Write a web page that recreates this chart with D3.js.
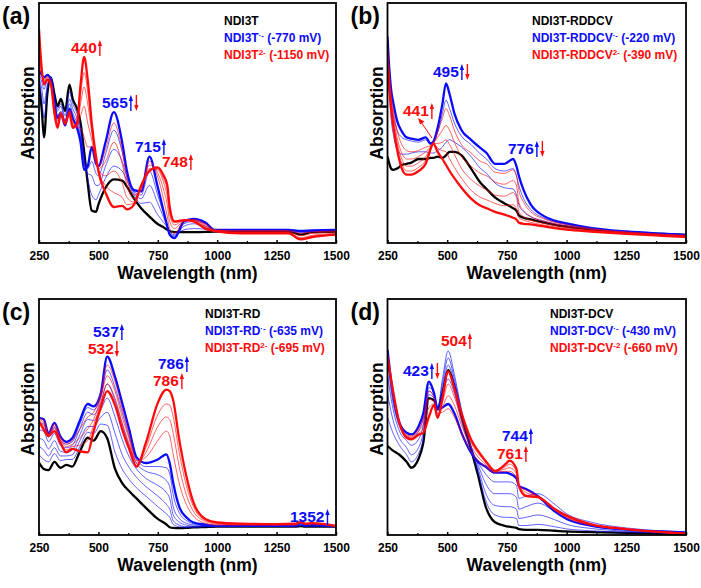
<!DOCTYPE html>
<html>
<head>
<meta charset="utf-8">
<script src="https://cdn.jsdelivr.net/npm/d3@7"></script>
<style>
  body { margin: 0; background: #fff; }
  svg { display: block; }
  text { font-family: "Liberation Sans", Arial, sans-serif; font-weight: bold; }
</style>
</head>
<body>
<div id="chart"></div>
<script>
// ---- data (absorption in arbitrary units) ----

// panel (a) NDI3T
var wlA = [250, 262, 271, 285, 300, 315, 328, 342, 360, 378, 392, 410, 425, 440, 455, 472, 490, 500, 530, 565, 600, 620, 650, 680, 715, 748, 775, 790, 800, 820, 860, 900, 950, 990, 1100, 1200, 1300, 1350, 1400, 1500];
var blackA = [66, 55, 44, 62, 69, 62, 57, 60, 55, 66, 60, 56, 50, 38, 25, 13.5, 13, 16, 23, 26.5, 26, 23.5, 18.5, 14.5, 11, 8, 6.5, 5.5, 5, 4.5, 4.5, 4.5, 4.6, 4.8, 4.8, 4.8, 4.8, 3.5, 4.5, 4.8];
var blueA = [72, 70, 69, 70, 68, 58, 52, 54, 49, 56, 52, 48, 42, 30.5, 32, 40, 33, 32, 42, 54.5, 42, 30, 22, 21.5, 36, 24, 13, 7, 3.5, 2, 9, 10, 8.5, 5.5, 5.5, 5.5, 5.5, 5, 5.3, 5.5];
var redA = [89, 72, 66, 68, 66, 54, 48, 54, 50, 54, 48, 50, 66, 77.5, 68, 50, 36, 30, 21, 15, 15.5, 14, 16, 24, 30, 31.5, 28, 24, 15, 9, 9.5, 9, 6, 5, 4, 4, 4, 1.5, 2.5, 3.5];
var blueThinA1 = [68, 60, 52, 64, 69, 61, 56, 58, 53, 63, 58, 54, 48, 36, 27, 20, 18, 20, 27, 32, 30, 26, 20, 16.5, 17, 12, 8.5, 6.5, 4.5, 3.5, 5.5, 6, 5.8, 5, 5, 5, 5, 4.2, 4.8, 5];
var blueThinA2 = [69, 64, 58, 66, 69, 60, 55, 57, 51, 60, 56, 52, 46, 34, 29, 28, 24, 24, 32, 39, 34, 27.5, 21, 18.5, 24, 17, 10.5, 7, 4, 3, 7, 8, 7, 5.2, 5.2, 5.2, 5.2, 4.6, 5, 5.2];
var blueThinA3 = [71, 67, 64, 68, 68.5, 59, 53, 55, 50, 58, 54, 50, 44, 32, 31, 34, 29, 28, 37, 47, 38, 29, 21.5, 20, 30, 20.5, 12, 7, 3.8, 2.5, 8, 9, 8, 5.4, 5.4, 5.4, 5.4, 4.8, 5.2, 5.4];
var redThinA1 = [75, 70, 68, 69.5, 67.5, 57, 51, 54, 49, 55.5, 51, 48, 48, 44, 40, 40, 33, 31.5, 39, 50, 38.5, 27, 20, 22, 34, 28, 18, 11, 6, 4, 9, 9.8, 8, 5.4, 5.2, 5.2, 5.2, 4, 4.6, 5];
var redThinA2 = [78, 71, 67.5, 69, 67, 56, 50, 54, 49.5, 55, 50, 48.5, 53, 57, 50, 43, 34, 31, 34, 42, 33, 24, 18.5, 23, 32.5, 29.5, 22, 16, 9, 6, 9.2, 9.5, 7.5, 5.3, 4.8, 4.8, 4.8, 3, 4, 4.6];
var redThinA3 = [82, 71.5, 67, 68.5, 66.5, 55, 49, 54, 50, 54.5, 49, 49, 58, 65, 58, 46, 35, 30.5, 28, 30, 25, 19, 17, 23.5, 31, 30.5, 25, 19.5, 12, 7.5, 9.4, 9.2, 7, 5.2, 4.4, 4.4, 4.4, 2.2, 3.2, 4];
var redThinA4 = [86, 72, 66.5, 68, 66, 54.5, 48.5, 54, 50, 54, 48.5, 49.5, 62, 71, 63, 48, 35.5, 30, 24, 21, 19, 16, 16.5, 24, 30.5, 31, 26.5, 22, 13.5, 8.5, 9.5, 9.1, 6.5, 5.1, 4.2, 4.2, 4.2, 1.8, 2.8, 3.7];

// panel (b) NDI3T-RDDCV
var wlB = [250, 258, 265, 275, 290, 310, 330, 350, 380, 410, 430, 441, 460, 480, 495, 510, 530, 560, 600, 640, 665, 700, 740, 776, 790, 800, 820, 850, 900, 950, 1000, 1100, 1250, 1400, 1500];
var blackB = [36, 33, 31, 30.5, 31, 32.5, 33, 33.5, 35, 35, 35.5, 35.5, 36, 35.5, 36.5, 38, 38, 36.5, 31, 25, 22.5, 19, 16.5, 14.5, 13.5, 11.5, 10.5, 9.8, 8.6, 7.6, 6.8, 5.6, 4.4, 3.8, 3.4];
var blueB = [86, 72, 64, 58, 51, 46.5, 44, 43.5, 43, 44, 41.5, 42, 48, 58, 66.5, 62, 54, 47, 43, 39.5, 37.5, 33, 33, 35, 32, 28, 22, 16, 11.5, 9.3, 8.2, 6.3, 4.8, 3.9, 3.4];
var redB = [77, 64, 56, 48, 39, 31, 28.5, 28.5, 30, 33, 39, 41.5, 38, 35, 32.5, 30, 27, 23, 18.5, 15.5, 14.5, 13, 11.8, 10.5, 9.8, 8.5, 8, 7.8, 7, 6.2, 5.6, 4.8, 3.8, 3, 2.5];
var blueThinB1 = [80, 62, 52, 45, 39, 37, 37, 37.5, 38, 38, 37.5, 37.5, 38.5, 40, 42, 43, 42, 40, 36, 31, 29, 25, 23, 22.5, 20, 16, 13, 11, 9.3, 8, 7.2, 5.9, 4.6, 3.8, 3.4];
var blueThinB2 = [84, 68, 59, 53, 47, 44, 43, 42.5, 42, 43, 41, 41.5, 46, 54, 59.5, 56, 50, 44.5, 41, 37, 35, 31, 30, 31, 28, 24, 18.5, 14, 10.6, 8.8, 7.8, 6.1, 4.7, 3.9, 3.4];
var redThinB1 = [84, 70, 62, 55, 47, 41, 38.5, 38, 38.5, 40, 40.5, 41.5, 46, 52, 56, 53, 47, 41, 37.5, 34, 33, 29.5, 29, 30.5, 28, 22, 17, 13, 10.2, 8.6, 7.6, 6, 4.6, 3.7, 3.2];
var redThinB2 = [82, 68, 60, 52.5, 44, 37.5, 35, 35, 36, 38, 40, 41.5, 44, 47, 49, 47, 42, 36, 32, 29, 28, 25.5, 24.5, 26, 24, 17, 13.5, 11, 9.2, 8, 7, 5.7, 4.4, 3.5, 3];
var redThinB3 = [80, 66, 58, 50.5, 42, 35, 32, 32, 33.5, 36, 39.5, 41.5, 41.5, 42, 43, 41, 37, 31, 26.5, 23.5, 22, 20, 19.5, 21, 19, 13, 11, 9.5, 8.3, 7.3, 6.5, 5.3, 4.2, 3.3, 2.8];
var redThinB4 = [78.5, 65, 57, 49, 40.5, 33, 30, 30, 31.5, 34.5, 39, 41.5, 39.5, 38.5, 38, 35, 31.5, 27, 22, 19, 18, 16.5, 15.5, 16, 14, 10.5, 9.5, 8.6, 7.6, 6.7, 6, 5, 4, 3.1, 2.6];

// panel (c) NDI3T-RD
var wlC = [250, 270, 290, 315, 340, 365, 390, 420, 455, 480, 510, 537, 570, 600, 630, 660, 700, 750, 786, 800, 815, 840, 870, 900, 950, 1000, 1100, 1250, 1330, 1352, 1370, 1400, 1500];
var blackC = [30.7, 28, 27.5, 31, 28.5, 29.7, 29, 34.9, 41.2, 40, 44, 41, 28, 22, 18.5, 15.5, 11.5, 6.8, 4.5, 3.3, 3, 2.9, 3, 3.2, 3.4, 3.6, 3.6, 3.6, 3.6, 3.8, 3.6, 3.6, 3.6];
var blueC = [49.6, 49, 43, 47.5, 41.8, 39.5, 41, 48, 55.5, 54.5, 60, 75.6, 67, 56, 44.6, 33, 30.5, 32, 34.2, 30.5, 22, 12, 7.5, 5.3, 4.4, 3.9, 3.9, 3.9, 4, 5.3, 4.3, 4.5, 3.6];
var redC = [48.2, 44.7, 41.9, 44, 39, 35, 36.5, 35.5, 35, 44, 54, 61, 55, 44.8, 36.3, 29, 39.1, 56, 61.6, 61, 57, 40.5, 25, 13.8, 6.8, 5.3, 4.8, 4.6, 4.8, 5.5, 4.8, 5, 3.8];
var blueThinC1 = [34, 32, 31, 34.5, 31.5, 32, 32, 37, 43.5, 43, 47, 46.5, 35, 28, 23.5, 20, 16.5, 12, 9, 7.5, 4.5, 3.5, 3.2, 3.3, 3.5, 3.6, 3.6, 3.6, 3.6, 4, 3.7, 3.7, 3.6];
var blueThinC2 = [37.5, 36, 33.5, 37, 33.5, 33.5, 34, 39.5, 46, 46, 50, 52, 43, 34, 28.5, 24.5, 20.5, 16.5, 13, 11, 6, 4.2, 3.5, 3.5, 3.6, 3.7, 3.7, 3.7, 3.7, 4.2, 3.8, 3.8, 3.6];
var blueThinC3 = [41, 40, 36.5, 40, 35.5, 35, 36, 42, 49, 48.5, 53, 58, 50, 40.5, 33, 28, 24, 21, 18, 15.5, 8.5, 5.5, 4.2, 3.8, 3.8, 3.8, 3.8, 3.8, 3.8, 4.5, 3.9, 4, 3.6];
var blueThinC4 = [44.5, 44, 39.5, 43, 38, 37, 38, 44.5, 52, 51, 56, 64, 57, 47, 37.5, 30.5, 27, 25.5, 23, 20.5, 12, 7, 5, 4.3, 4, 3.8, 3.8, 3.8, 3.9, 4.8, 4, 4.2, 3.6];
var blueThinC5 = [47.5, 47, 41.5, 45.5, 40, 38.5, 39.5, 46.5, 54, 53, 58.5, 70, 62.5, 52, 41.5, 32, 29, 29, 28.5, 26, 17, 9.5, 6.2, 4.8, 4.2, 3.9, 3.9, 3.9, 4, 5, 4.2, 4.4, 3.6];
var redThinC1 = [49.5, 48.5, 43, 47, 41.5, 38.5, 40, 44.5, 50, 52, 60, 72, 65, 53.5, 42.5, 31.5, 33, 40, 44, 42, 34, 22, 13, 8, 5, 4.2, 4.2, 4.2, 4.2, 5.3, 4.5, 4.7, 3.7];
var redThinC2 = [49, 47.5, 42.5, 46, 40.5, 37.5, 38.5, 41, 45, 49, 58, 67.5, 61, 50, 40.5, 30.5, 35, 46, 50, 49, 43, 29, 17, 10, 5.8, 4.6, 4.4, 4.4, 4.4, 5.4, 4.6, 4.8, 3.7];
var redThinC3 = [48.5, 46, 42, 45, 40, 36, 37.5, 38, 40, 46.5, 56, 64, 58, 47.5, 38.5, 29.5, 37, 51, 55.5, 55, 50, 35, 21, 12, 6.3, 5, 4.6, 4.5, 4.6, 5.5, 4.7, 4.9, 3.7];

// panel (d) NDI3T-DCV
var wlD = [250, 270, 300, 330, 350, 380, 400, 423, 445, 460, 480, 504, 530, 560, 600, 630, 660, 700, 744, 761, 790, 800, 830, 880, 950, 1000, 1100, 1250, 1400, 1500];
var blackD = [37.7, 36, 34, 31, 28.5, 32.3, 39.1, 58, 57, 53.2, 60, 70, 63, 50.4, 36.3, 25, 12.4, 5.4, 3.8, 3.5, 3, 2.5, 2.2, 2.2, 1.8, 1.5, 1.2, 0.9, 0.6, 0.4];
var blueD = [78.5, 61.6, 47.5, 43.3, 42.6, 46, 51.6, 65, 60, 53.2, 54, 55.5, 51.6, 43.3, 34.9, 31, 29, 26.4, 26.4, 26, 24, 20.8, 19.5, 16.5, 10, 6.8, 4, 2.3, 1.5, 1.1];
var redD = [75.7, 63, 47.5, 41.2, 40.5, 42.5, 43.3, 50, 55, 49.6, 58, 69.3, 62, 51.6, 40.5, 35.5, 31.5, 27.2, 30, 31.5, 28, 20.8, 16.5, 16, 11, 8.2, 4.6, 2.5, 1.2, 0.4];
var blueThinD1 = [50, 44, 38, 34, 31, 34.5, 41, 59.5, 58, 53.5, 62, 72, 64.5, 51.5, 37, 26.5, 15, 8.5, 7.5, 7.5, 7, 4, 4, 4.5, 3.5, 2.6, 1.8, 1.2, 0.8, 0.6];
var blueThinD2 = [60, 50, 41, 37, 34, 37, 43.5, 61, 59, 54, 64, 75, 66, 52.5, 37.5, 28, 18, 12.5, 12, 12, 11, 7, 7.5, 8.5, 6.5, 4.5, 2.8, 1.6, 1, 0.8];
var blueThinD3 = [68, 55, 44, 40, 38, 40.5, 46.5, 62.5, 60, 54, 66, 78, 68, 53, 37.5, 29.5, 22, 17.5, 17.5, 17.5, 16, 11, 12, 13.5, 10, 7, 4, 2.2, 1.3, 1];
var blueThinD4 = [74, 58, 46, 42, 41, 44, 49.5, 64, 60, 53.5, 60, 66, 60, 48, 36, 30.5, 26, 22.5, 22.5, 22.5, 21, 15.5, 16.5, 17.5, 13, 9, 5.5, 3, 1.7, 1.2];
var redThinD1 = [77, 62, 47.5, 42.5, 42, 45, 49, 61, 58, 51.5, 52, 53.5, 50, 43, 35.5, 31.5, 29, 26.5, 27, 27, 24.5, 20.8, 19, 16.5, 10.5, 7.3, 4.2, 2.4, 1.4, 1];
var redThinD2 = [76.5, 62.5, 47.5, 42, 41.5, 44, 47, 57.5, 56.5, 50.5, 54, 59, 55, 46.5, 37.5, 33, 30, 27, 28, 28.5, 26, 20.8, 18, 16.5, 10.7, 7.7, 4.4, 2.4, 1.3, 0.8];
var redThinD3 = [76, 63, 47.5, 41.5, 41, 43, 45, 54, 55.5, 50, 56, 64, 58.5, 49, 39, 34.5, 31, 27, 29, 30, 27, 20.8, 17, 16.3, 10.8, 8, 4.5, 2.5, 1.2, 0.6];

var xTicks = [250, 500, 750, 1000, 1250, 1500];
var xMinorTicks = [375, 625, 875, 1125, 1375];

var blue = "#0a0aff", red = "#ff0a0a";

// ---- panels (layout + which series go where) ----
var panels = [
  { tag: "(a)", left: 39, right: 336, top: 3, bottom: 243,
    wl: wlA, black: blackA, blue: blueA, red: redA,
    thinBlue: [blueThinA1, blueThinA2, blueThinA3],
    thinRed: [redThinA1, redThinA2, redThinA3, redThinA4],
    legend: { x: 224, y: 25, name: "NDI3T", sup1: "·-", v1: " (-770 mV)", sup2: "2-", v2: " (-1150 mV)" },
    notes: [
      { t: "440", c: red, x: 71, y: 53, arrows: [["up", red]] },
      { t: "565", c: blue, x: 102, y: 108, arrows: [["up", blue], ["down", red]] },
      { t: "715", c: blue, x: 135, y: 152, arrows: [["up", blue]] },
      { t: "748", c: red, x: 162, y: 167, arrows: [["up", red]] }
    ] },
  { tag: "(b)", left: 387.5, right: 686, top: 3, bottom: 243,
    wl: wlB, black: blackB, blue: blueB, red: redB,
    thinBlue: [blueThinB1, blueThinB2],
    thinRed: [redThinB1, redThinB2, redThinB3, redThinB4],
    legend: { x: 532, y: 25, name: "NDI3T-RDDCV", sup1: "·-", v1: " (-220 mV)", sup2: "2-", v2: " (-390 mV)" },
    notes: [
      { t: "495", c: blue, x: 433, y: 77, arrows: [["up", blue], ["down", red]] },
      { t: "441", c: red, x: 403, y: 116, arrows: [["up", red]] },
      { t: "776", c: blue, x: 508, y: 154, arrows: [["up", blue], ["down", red]] }
    ] },
  { tag: "(c)", left: 39, right: 336, top: 299, bottom: 535,
    wl: wlC, black: blackC, blue: blueC, red: redC,
    thinBlue: [blueThinC1, blueThinC2, blueThinC3, blueThinC4, blueThinC5],
    thinRed: [redThinC1, redThinC2, redThinC3],
    legend: { x: 205, y: 318, name: "NDI3T-RD", sup1: "·-", v1: " (-635 mV)", sup2: "2-", v2: " (-695 mV)" },
    notes: [
      { t: "537", c: blue, x: 93, y: 337, arrows: [["up", blue]] },
      { t: "532", c: red, x: 88, y: 354, arrows: [["down", red]] },
      { t: "786", c: blue, x: 158, y: 369, arrows: [["up", blue]] },
      { t: "786", c: red, x: 153, y: 386, arrows: [["up", red]] },
      { t: "1352", c: blue, x: 290, y: 522, arrows: [["up", blue]] }
    ] },
  { tag: "(d)", left: 387.5, right: 686, top: 299, bottom: 535,
    wl: wlD, black: blackD, blue: blueD, red: redD,
    thinBlue: [blueThinD1, blueThinD2, blueThinD3, blueThinD4],
    thinRed: [redThinD1, redThinD2, redThinD3],
    legend: { x: 550, y: 318, name: "NDI3T-DCV", sup1: "·-", v1: " (-430 mV)", sup2: "-2", v2: " (-660 mV)" },
    notes: [
      { t: "504", c: red, x: 441, y: 346, arrows: [["up", red]] },
      { t: "423", c: blue, x: 403, y: 376, arrows: [["up", blue], ["down", red]] },
      { t: "744", c: blue, x: 502, y: 441, arrows: [["up", blue]] },
      { t: "761", c: red, x: 497, y: 459, arrows: [["up", red]] }
    ] }
];

var svg = d3.select("#chart").append("svg")
  .attr("width", 701)
  .attr("height", 588);

panels.forEach(function(p) {
  var g = svg.append("g");

  var x = d3.scaleLinear().domain([250, 1500]).range([p.left, p.right]);
  var y = d3.scaleLinear().domain([0, 100]).range([p.bottom, p.top]);

  var clipId = "clip" + p.tag.replace(/\W/g, "");
  svg.append("clipPath").attr("id", clipId)
    .append("rect")
    .attr("x", p.left).attr("y", p.top)
    .attr("width", p.right - p.left).attr("height", p.bottom - p.top);

  var line = d3.line()
    .x(function(d, i) { return x(p.wl[i]); })
    .y(function(d) { return y(d); })
    .curve(d3.curveMonotoneX);

  var curves = g.append("g").attr("clip-path", "url(#" + clipId + ")");

  function draw(vals, color, w, op) {
    curves.append("path")
      .attr("d", line(vals))
      .attr("fill", "none")
      .attr("stroke", color)
      .attr("stroke-width", w)
      .attr("stroke-opacity", op)
      .attr("stroke-linejoin", "round");
  }

  draw(p.black, "#000", 2.3, 1);
  p.thinBlue.forEach(function(v) { draw(v, blue, 0.8, 0.8); });
  draw(p.blue, blue, 2.3, 1);
  p.thinRed.forEach(function(v) { draw(v, red, 0.8, 0.8); });
  draw(p.red, red, 2.3, 1);

  // axes
  var ax = g.append("g")
    .attr("transform", "translate(0," + p.bottom + ")")
    .call(d3.axisBottom(x).tickValues(xTicks).tickSize(-3).tickPadding(8).tickFormat(d3.format("d")));
  ax.select(".domain").remove();
  ax.selectAll("text").attr("font-size", 12).attr("fill", "#000")
    .style("font-family", "'Liberation Sans', Arial, sans-serif").style("font-weight", "bold");
  ax.selectAll("line").attr("stroke-width", 1.5);

  var axm = g.append("g")
    .attr("transform", "translate(0," + p.bottom + ")")
    .call(d3.axisBottom(x).tickValues(xMinorTicks).tickSize(-2).tickFormat(""));
  axm.select(".domain").remove();
  axm.selectAll("line").attr("stroke-width", 1.2);

  g.append("rect")
    .attr("x", p.left).attr("y", p.top)
    .attr("width", p.right - p.left).attr("height", p.bottom - p.top)
    .attr("fill", "none").attr("stroke", "#000").attr("stroke-width", 1.8);

  // titles
  var mid = (p.left + p.right) / 2;
  g.append("text")
    .attr("x", mid).attr("y", p.bottom + 36)
    .attr("text-anchor", "middle").attr("font-size", 17.5)
    .text("Wavelength (nm)");

  g.append("text")
    .attr("transform", "translate(" + (p.left - 5) + "," + (p.top + 110) + ") rotate(-90)")
    .attr("text-anchor", "middle").attr("font-size", 17.5)
    .text("Absorption");

  g.append("text")
    .attr("x", p.left - 37).attr("y", p.top + 21)
    .attr("font-size", 23)
    .text(p.tag);

  // legend
  var L = p.legend;
  g.append("text").attr("x", L.x).attr("y", L.y).attr("font-size", 12).attr("fill", "#000").text(L.name);
  var t1 = g.append("text").attr("x", L.x).attr("y", L.y + 17).attr("font-size", 12).attr("fill", blue);
  t1.append("tspan").text(L.name);
  t1.append("tspan").attr("dy", -4).attr("font-size", 8).text(L.sup1);
  t1.append("tspan").attr("dy", 4).text(L.v1);
  var t2 = g.append("text").attr("x", L.x).attr("y", L.y + 34).attr("font-size", 12).attr("fill", red);
  t2.append("tspan").text(L.name);
  t2.append("tspan").attr("dy", -4).attr("font-size", 8).text(L.sup2);
  t2.append("tspan").attr("dy", 4).text(L.v2);

  // peak notes with arrows
  p.notes.forEach(function(n) {
    var txt = g.append("text")
      .attr("x", n.x).attr("y", n.y)
      .attr("font-size", 15.5).attr("fill", n.c)
      .text(n.t);
    var w = txt.node().getComputedTextLength();
    n.arrows.forEach(function(a, i) {
      var ax0 = n.x + w + 3 + i * 5.5;
      var yTop = n.y - 13, yBot = n.y + 3;
      var tipY = a[0] === "up" ? yTop : yBot;
      var baseY = a[0] === "up" ? yTop + 6 : yBot - 6;
      var tailY = a[0] === "up" ? yBot : yTop;
      g.append("line")
        .attr("x1", ax0).attr("x2", ax0)
        .attr("y1", tailY).attr("y2", baseY)
        .attr("stroke", a[1]).attr("stroke-width", 1.4);
      g.append("path")
        .attr("d", "M" + (ax0 - 2.2) + "," + baseY + "L" + ax0 + "," + tipY + "L" + (ax0 + 2.2) + "," + baseY + "Z")
        .attr("fill", a[1]);
    });
  });
});

// the small pointer in panel (b) from the 441 label to its band
svg.append("line")
  .attr("x1", 432).attr("y1", 138).attr("x2", 421).attr("y2", 122)
  .attr("stroke", red).attr("stroke-width", 1);
svg.append("path")
  .attr("d", "M418,118 L424.5,121.5 L420,124.5 Z")
  .attr("fill", red);
</script>
</body>
</html>
